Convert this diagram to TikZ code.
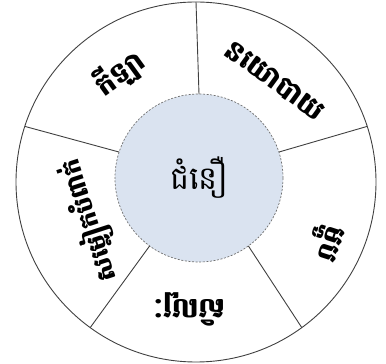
\documentclass[tikz,border=0pt]{standalone}
\usepackage{fontspec}
\newfontfamily\khmer[Script=Khmer]{Battambang}
\definecolor{innerfill}{HTML}{DAE3F0}
\definecolor{ringline}{HTML}{404040}
\definecolor{dashline}{HTML}{707070}
\tikzset{
  ring/.style={circle, draw=ringline, line width=0.9pt, minimum size=360pt, inner sep=0pt, outer sep=0pt},
  hub/.style={circle, draw=dashline, line width=0.7pt, dash pattern=on 2pt off 1.6pt, fill=innerfill, minimum size=168pt, inner sep=0pt, outer sep=0pt, font=\khmer\fontsize{32}{37}\selectfont},
  divider/.style={draw=ringline, line width=0.9pt},
  seclabel/.style={font=\khmer\bfseries\fontsize{28}{33}\selectfont, inner sep=0pt}
}
\begin{document}
\begin{tikzpicture}[x=1pt,y=1pt]
\useasboundingbox (0,0) rectangle (386,364);
\node[ring] (outer) at (196,182) {};
\node[hub] (inner) at (199,186) {ជំនឿ};
\foreach \a in {90,18,-54,-126,162}
  \draw[divider] (outer.\a) -- (inner.\a);
\node[seclabel, rotate=36] (sport) at ([shift={(125:133)}]outer.center) {កីឡា};
\node[seclabel, rotate=-36] (politics) at ([shift={(52:128)}]outer.center) {នយោបាយ};
\node[seclabel, rotate=-108] (food) at ([shift={(-25:143)}]outer.center) {ម្ហូប};
\node[seclabel, rotate=180] (art) at ([shift={(-93:128)}]outer.center) {សិល្បៈ};
\node[seclabel, rotate=108, font=\khmer\bfseries\fontsize{25}{29}\selectfont] (clothes) at ([shift={(200:112)}]outer.center) {សម្លៀកបំពាក់};
\end{tikzpicture}
\end{document}
